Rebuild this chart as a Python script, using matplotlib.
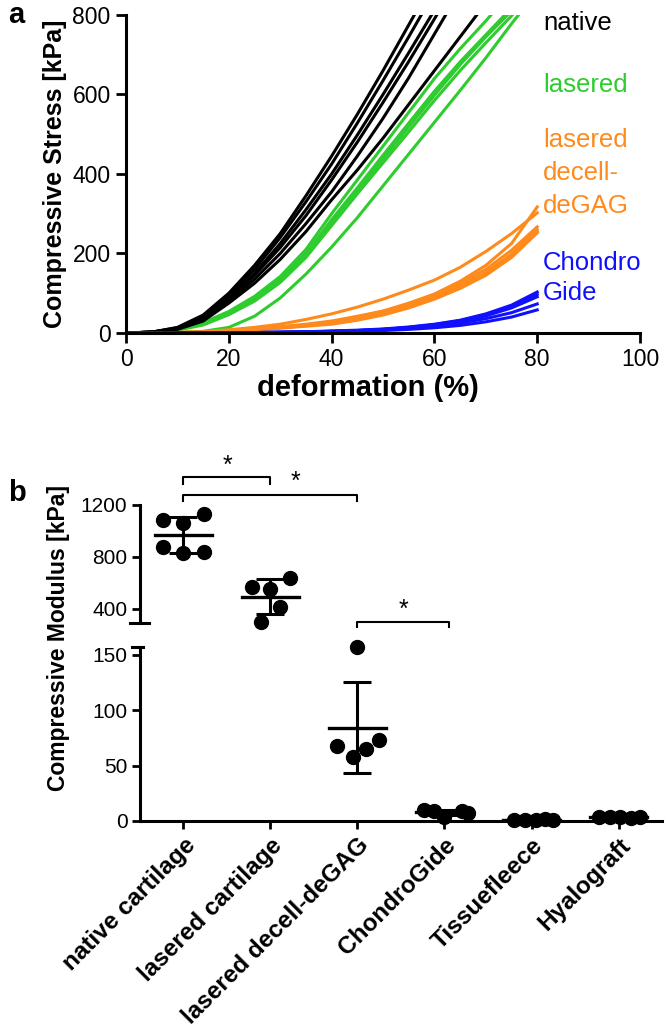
import numpy as np
import matplotlib
matplotlib.use("Agg")
import matplotlib.pyplot as plt

plt.rcParams['font.family'] = ['Liberation Sans', 'DejaVu Sans']

# === Data: panel a (stress-strain curves, read every 5 %) ===
strain = [0, 5, 10, 15, 20, 25, 30, 35, 40, 45, 50, 55, 60, 65, 70, 75, 80]

native_curves = [
    [0, 2, 14, 45, 100, 170, 250, 345, 445, 550, 660, 775, 890],
    [0, 2, 13, 42, 95, 160, 240, 330, 425, 528, 635, 745, 858],
    [0, 2, 11, 38, 88, 150, 225, 310, 400, 498, 600, 705, 812],
    [0, 2, 11, 36, 85, 145, 215, 295, 385, 480, 580, 683, 790, 900],
    [0, 2, 10, 33, 80, 135, 200, 275, 355, 445, 540, 642, 752, 862],
    [0, 2, 9, 30, 75, 125, 185, 255, 335, 410, 490, 575, 660, 745, 830],
]
lasered_curves = [
    [0, 2, 9, 26, 54, 92, 142, 210, 300, 385, 470, 555, 640, 715, 785, 860],
    [0, 2, 8, 23, 50, 86, 135, 200, 285, 365, 447, 528, 608, 682, 750, 818],
    [0, 2, 8, 22, 48, 84, 132, 196, 278, 358, 438, 518, 598, 675, 745, 810],
    [0, 1, 7, 20, 46, 80, 127, 190, 270, 350, 428, 506, 585, 660, 730, 798, 868],
    [0, 0, 1, 4, 14, 42, 88, 148, 216, 290, 370, 450, 530, 610, 692, 778, 860],
]
decell_curves = [
    [0, 0, 1, 3, 8, 14, 22, 34, 48, 65, 85, 108, 133, 165, 205, 250, 302],
    [0, 0, 1, 2, 5, 10, 16, 22, 30, 42, 55, 75, 98, 130, 170, 225, 317],
    [0, 0, 1, 2, 5, 9, 14, 20, 28, 40, 55, 73, 95, 125, 160, 208, 267],
    [0, 0, 1, 2, 4, 8, 13, 19, 25, 36, 50, 68, 90, 118, 152, 198, 260],
    [0, 0, 1, 2, 4, 7, 12, 17, 22, 32, 45, 63, 85, 112, 145, 190, 252],
    [0, 0, 1, 2, 4, 8, 13, 18, 24, 34, 47, 65, 88, 115, 150, 195, 255],
]
chondro_curves = [
    [0, 0, 0, 0, 1, 1, 2, 3, 5, 7, 10, 15, 22, 32, 48, 70, 103],
    [0, 0, 0, 0, 1, 1, 2, 3, 4, 6, 9, 14, 21, 31, 46, 67, 97],
    [0, 0, 0, 0, 1, 1, 2, 3, 4, 6, 9, 13, 20, 29, 43, 63, 91],
    [0, 0, 0, 0, 0, 1, 1, 2, 4, 5, 8, 11, 17, 25, 36, 51, 73],
    [0, 0, 0, 0, 0, 1, 1, 2, 3, 4, 6, 9, 13, 19, 28, 40, 58],
]

# === Data: panel b (compressive modulus, kPa) ===
groups = ["native cartilage", "lasered cartilage", "lasered decell-deGAG",
          "ChondroGide", "Tissuefleece", "Hyalograft"]
native_mod = [1085, 1062, 1131, 877, 831, 838]
lasered_mod = [569, 554, 638, 415, 300]
decell_mod = [68, 57.5, 157, 65, 73]
chondro_mod = [10, 9, 9, 7, 4]
tissue_mod = [1.2, 0.8, 1.0, 1.5, 0.6]
hyalo_mod = [3.5, 3.2, 3.8, 3.0, 3.4]

GREEN = "#2ecc2e"
ORANGE = "#ff8a1c"
BLUE = "#1010ff"

fig = plt.figure(figsize=(6.66, 10.27), dpi=100)

# === Panel a ===
ax = fig.add_axes([0.1892, 0.6758, 0.7718, 0.3096])
for curves, col in [(lasered_curves, GREEN), (native_curves, "black"),
                    (decell_curves, ORANGE), (chondro_curves, BLUE)]:
    for c in curves:
        ax.plot(strain[:len(c)], c, color=col, lw=2.2)
ax.set_xlim(0, 100)
ax.set_ylim(0, 800)
ax.set_xticks([0, 20, 40, 60, 80, 100])
ax.set_yticks([0, 200, 400, 600, 800])
for s in ["top", "right"]:
    ax.spines[s].set_visible(False)
for s in ["left", "bottom"]:
    ax.spines[s].set_linewidth(2.2)
ax.tick_params(direction="out", length=7, width=2, labelsize=16.5, pad=4)
ax.set_xlabel("deformation (%)", fontsize=21, fontweight="bold")
ax.xaxis.set_label_coords(0.47, -0.13)
ax.set_ylabel("Compressive Stress [kPa]", fontsize=18, fontweight="bold", labelpad=4)

txt = dict(fontsize=18.5, va="center", ha="left", clip_on=False)
ax.text(81.1, 780, "native", color="black", **txt)
ax.text(81.1, 624, "lasered", color=GREEN, **txt)
ax.text(81.1, 486, "lasered", color=ORANGE, **txt)
ax.text(81.1, 402, "decell-", color=ORANGE, **txt)
ax.text(81.1, 320, "deGAG", color=ORANGE, **txt)
ax.text(81.1, 176, "Chondro", color=BLUE, **txt)
ax.text(81.1, 101, "Gide", color=BLUE, **txt)

fig.text(0.012, 0.985, "a", fontsize=21, fontweight="bold", va="center")

# === Panel b (broken axis) ===
axt = fig.add_axes([0.2102, 0.3934, 0.7838, 0.1149])
axb = fig.add_axes([0.2102, 0.2006, 0.7838, 0.1694])
axt.set_ylim(292, 1200)
axb.set_ylim(0, 157)
for a in (axt, axb):
    a.set_xlim(-0.5, 5.5)
    a.spines["top"].set_visible(False)
    a.spines["right"].set_visible(False)
    a.spines["left"].set_linewidth(2.2)
    a.spines["bottom"].set_linewidth(2.2)
    a.tick_params(direction="out", length=6, width=2, labelsize=15, pad=3)
axt.spines["bottom"].set_visible(False)
axt.set_xticks([])
axt.set_yticks([400, 800, 1200])
axb.set_yticks([0, 50, 100, 150])
axb.set_xticks(range(len(groups)))
axb.set_xticklabels(groups, rotation=45, ha="right", rotation_mode="anchor",
                    fontsize=17.5, fontweight="bold")

# break caps on the y axis
axt.plot([-0.61, -0.40], [292, 292], color="black", lw=2.2, clip_on=False)
axb.plot([-0.59, -0.46], [157, 157], color="black", lw=2.2, clip_on=False)

offsets = [
    [-0.23, 0, 0.23, -0.23, 0, 0.23],
    [-0.21, 0, 0.22, 0.11, -0.11],
    [-0.23, -0.05, 0, 0.1, 0.25],
    [-0.23, -0.12, 0.2, 0.27, 0],
    [-0.2, -0.08, 0.05, 0.15, 0.25],
    [-0.22, -0.1, 0.02, 0.14, 0.25],
]
all_mod = [native_mod, lasered_mod, decell_mod, chondro_mod, tissue_mod, hyalo_mod]
for i, vals in enumerate(all_mod):
    a = axt if i < 2 else axb
    v = np.array(vals, dtype=float)
    m, sd = v.mean(), v.std(ddof=1)
    a.errorbar(i, m, yerr=sd, fmt="none", ecolor="black", elinewidth=2.2,
               capsize=10, capthick=2.2, clip_on=False, zorder=3)
    a.plot([i - 0.33, i + 0.33], [m, m], color="black", lw=2.4, clip_on=False, zorder=3)
    a.plot(i + np.array(offsets[i]), v, "o", color="black", ms=10, clip_on=False, zorder=4)

axb.set_ylabel("Compressive Modulus [kPa]", fontsize=16.5, fontweight="bold")
axb.yaxis.set_label_coords(-0.135, 1.05)

# significance brackets
def bracket(a, x0, x1, y, drop, ys, xs):
    a.plot([x0, x0, x1, x1], [y - drop, y, y, y - drop], color="black", lw=1.5, clip_on=False)
    a.text(xs, ys, "*", fontsize=18, ha="center", va="center", clip_on=False)

bracket(axt, 0, 1, 1415, 55, 1500, 0.5)
bracket(axt, 0, 2, 1277, 50, 1375, 1.29)
bracket(axt, 2, 3.05, 300, 40, 395, 2.53)

fig.text(0.012, 0.52, "b", fontsize=21, fontweight="bold", va="center")

fig.savefig("out.png", dpi=100)
